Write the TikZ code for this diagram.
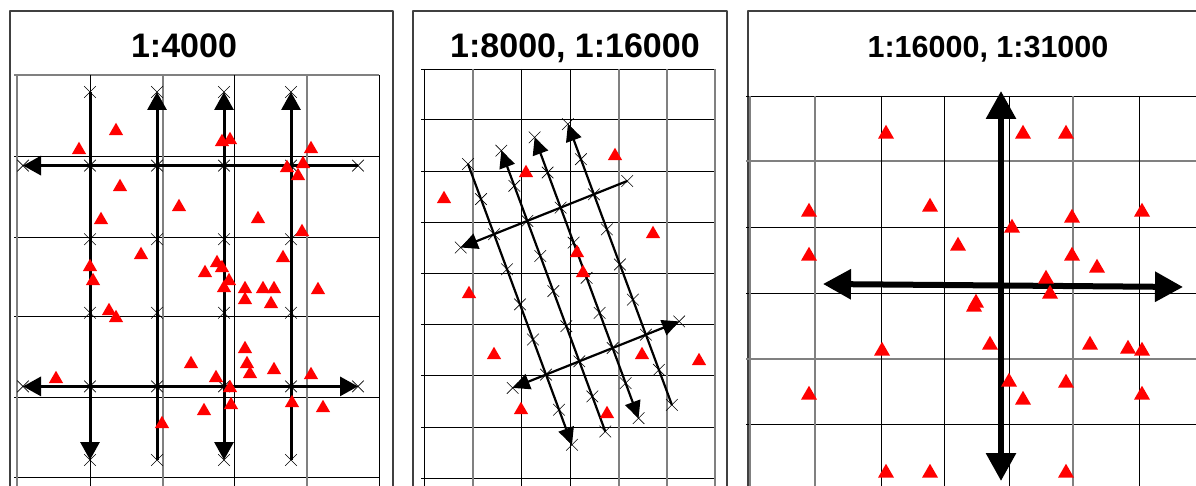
\documentclass[tikz,border=0pt]{standalone}
\usepackage{fontspec}
\setmainfont{Liberation Sans}
\usetikzlibrary{arrows.meta,shapes.geometric,shapes.misc}
\tikzset{
  gridln/.style={line width=0.9pt,black},
  gridgr/.style={line width=1.2pt,black!50},
  frame/.style={line width=1.5pt,black!75},
  tri/.style={regular polygon,regular polygon sides=3,fill=red,draw=none,
              inner sep=0pt,minimum size=16.5pt},
  stn/.style={cross out,draw,line width=0.6pt,minimum size=11pt,inner sep=0pt},
  ttl/.style={font=\bfseries\fontsize{34}{40}\selectfont,anchor=base},
  every picture/.style={line join=round}}

\begin{document}
\begin{tikzpicture}[x=1pt,y=-1pt]
  \useasboundingbox (0,0) rectangle (1196,486);
  \clip (0,0) rectangle (1196,486);
  % 1:4000
  \begin{scope}[>={Triangle[length=18pt,width=19pt]}]
    \draw[frame] (10,11) rectangle (393,500);
    \node[ttl] (ttl1) at (184,58) {1:4000};
    \foreach \y in {156,237,316,397,477} \draw[gridln] (14,\y) -- (379,\y);
    \draw[gridgr] (14,75) -- (379,75);
    \foreach \x in {90,234,379} \draw[gridln] (\x,75) -- (\x,490);
    \foreach \x in {17,163,307} \draw[gridgr] (\x,75) -- (\x,490);
    \foreach \j in {0,...,5} \foreach \k in {0,...,5}
      \coordinate (a\j\k) at ({23+67*\j},{92+73.6*\k});
    \draw[line width=3pt,->] (a10) -- (a15);
    \draw[line width=3pt,<-] (a20) -- (a25);
    \draw[line width=3pt,<->] (a30) -- (a35);
    \draw[line width=3pt,<-] (a40) -- (a45);
    \draw[line width=3pt,<-] (a01) -- (a51);
    \draw[line width=3pt,<->] (a04) -- (a54);
    \foreach \j in {1,...,4} \foreach \k in {0,...,5} \node[stn] (xa\j\k) at (a\j\k) {};
    \foreach \j in {0,5} \foreach \k in {1,4} \node[stn] (xa\j\k) at (a\j\k) {};
    \foreach \x/\y [count=\n] in {116/130,79/149,222/141,230/139,311/148,303/163,287/167,
        298/175,120/186,179/206,101/219,258/218,302/231,141/254,90/266,93/280,217/262,
        222/267,205/272,229/280,224/287,283/257,245/288,245/299,263/288,274/288,271/303,
        318/289,109/310,116/317,245/348,247/363,250/373,191/363,274/369,216/377,230/387,
        311/374,56/378,231/404,204/410,292/402,323/407,162/423}
      \node[tri] (p\n) at (\x,\y+1) {};
  \end{scope}
  % 1:8000, 1:16000
  \begin{scope}[>={Triangle[length=17pt,width=16pt]}]
    \draw[frame] (413,11) rectangle (727,500);
    \node[ttl] (ttl2) at (575,58) {1:8000, 1:16000};
    \foreach \y in {69,119,171,222,273,324,375,427,478} \draw[gridln] (421,\y) -- (715,\y);
    \foreach \x in {424,521,570} \draw[gridln] (\x,69) -- (\x,490);
    \foreach \x in {473,619,667,715} \draw[gridgr] (\x,69) -- (\x,490);
    \foreach \i in {0,...,5} \foreach \k in {0,...,8}
      \coordinate (b\i\k) at ({468+33.3*(\i-1)+13*\k},{164-13.3*(\i-1)+35.1*\k});
    \draw[line width=2.2pt,->] (b10) -- (b18);
    \draw[line width=2.2pt,<-] (b20) -- (b28);
    \draw[line width=2.2pt,<->] (b30) -- (b38);
    \draw[line width=2.2pt,<-] (b40) -- (b48);
    \draw[line width=2.2pt,<-] (b02) -- (b52);
    \draw[line width=2.2pt,<->] (b06) -- (b56);
    \foreach \i in {1,...,4} \foreach \k in {0,...,8} \node[stn] (xb\i\k) at (b\i\k) {};
    \foreach \i in {0,5} \foreach \k in {2,6} \node[stn] (xb\i\k) at (b\i\k) {};
    \foreach \x/\y [count=\n] in {615/155,526/172,444/198,653/233,577/252,583/272,
        469/293,494/354,642/354,699/360,521/409,607/413}
      \node[tri] (q\n) at (\x,\y+1) {};
  \end{scope}
  % 1:16000, 1:31000
  \begin{scope}[>={Triangle[length=28pt,width=29pt]}]
    \draw[frame] (748,11) rectangle (1210,500);
    \node[ttl,font=\bfseries\fontsize{30.5}{36}\selectfont] (ttl3) at (988,58) {1:16000, 1:31000};
    \foreach \y in {96,227,293,424} \draw[gridln] (746,\y) -- (1200,\y);
    \foreach \y in {161,359} \draw[gridgr] (746,\y) -- (1200,\y);
    \foreach \x in {881,944,1009,1139} \draw[gridln] (\x,96) -- (\x,490);
    \foreach \x in {750,815,1073} \draw[gridgr] (\x,96) -- (\x,490);
    \coordinate (c1) at (1001,91);
    \coordinate (c2) at (1001,481);
    \coordinate (c3) at (823,284);
    \coordinate (c4) at (1183,287);
    \draw[line width=6pt,<->] (c1) -- (c2);
    \draw[line width=6pt,<->] (c3) -- (c4);
    \foreach \x/\y [count=\n] in {886/133,1023/133,1066/133,809/211,930/206,1072/217,
        1142/211,1012/227,958/245,809/255,1072/255,1097/267,1046/278,1050/293,976/302,
        974/306,990/344,882/350,1090/344,1128/348,1142/350,1009/381,1066/382,1023/399,
        809/394,1142/394,886/472,930/472,1066/472}
      \node[tri,minimum size=18.5pt] (r\n) at (\x,\y+1) {};
  \end{scope}
\end{tikzpicture}
\end{document}
